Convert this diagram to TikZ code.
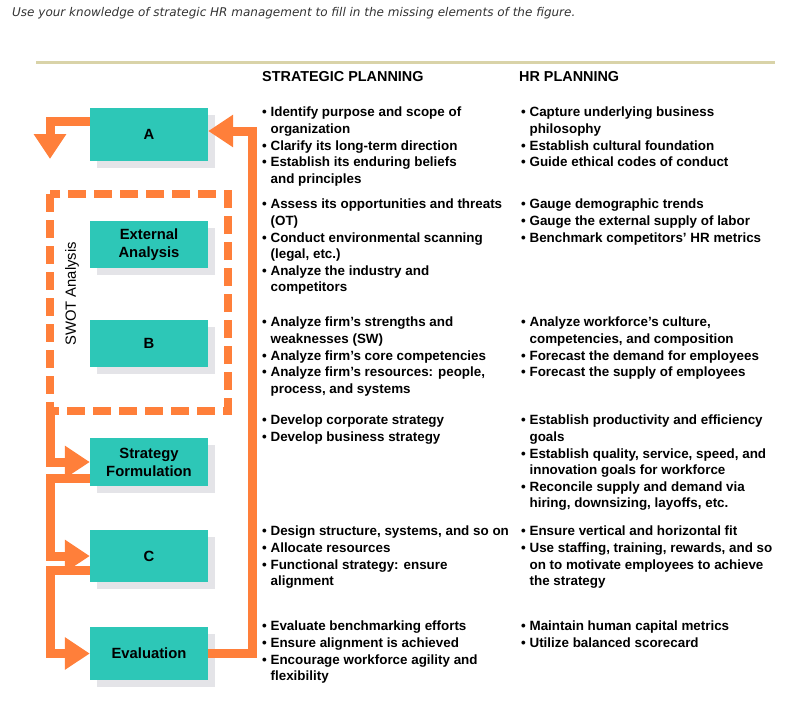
\documentclass[tikz,border=0pt]{standalone}
\usepackage{fontspec}
\setmainfont{Liberation Sans}
\newfontfamily\dejavu{DejaVu Sans}
\usetikzlibrary{arrows.meta}
\definecolor{teal1}{HTML}{2DC7B7}
\definecolor{orng}{HTML}{FF7F3A}
\definecolor{shad}{HTML}{E4E4E8}
\definecolor{rule}{HTML}{D9D3A8}
\newcommand{\cl}{\phantom{\textbullet\ }}
\tikzset{
 box/.style={fill=teal1,minimum width=118pt,minimum height=50pt,inner sep=0pt,align=center,font=\fontsize{14.8}{18}\selectfont\bfseries},
 shadow/.style={fill=shad},
 flow/.style={draw=orng,line width=9pt,line join=miter,-{Triangle[length=25pt,width=31pt]}},
 txt/.style={anchor=north west,inner sep=0pt,align=left,font=\fontsize{13.4}{16.6}\selectfont\bfseries},
 hdr/.style={anchor=west,inner sep=0pt,font=\fontsize{14.4}{17}\selectfont\bfseries}
}
\begin{document}
\begin{tikzpicture}[x=1pt,y=-1pt]
\useasboundingbox (0,0) rectangle (792,702);
\node[anchor=west,inner sep=0pt,font=\dejavu\fontsize{12}{14}\selectfont\itshape,text=black!80] (q) at (12,13) {Use your knowledge of strategic HR management to fill in the missing elements of the figure.};
\draw[rule,line width=3pt] (36,62) -- (775,62);
\node[hdr] (h1) at (262,77) {STRATEGIC PLANNING};
\node[hdr] (h2) at (519,77) {HR PLANNING};
% shadows
\foreach \y/\h in {108/53,221/47,320/47,438/48,530/52,627/53}
  \fill[shadow] (97,\y+7) rectangle ++(118,\h);
\node[box,minimum height=53pt] (A) at (149,134.5) {A};
\node[box,minimum height=47pt] (E) at (149,244.5) {External\\Analysis};
\node[box,minimum height=47pt] (B) at (149,343.5) {B};
\node[box,minimum height=48pt] (S) at (149,462) {Strategy\\Formulation};
\node[box,minimum height=52pt] (C) at (149,556) {C};
\node[box,minimum height=53pt] (V) at (149,653.5) {Evaluation};
% dashed swot
\draw[orng,line width=8.5pt,dash pattern=on 18pt off 8pt] (50,194) rectangle (228,411);
\node[rotate=90,inner sep=0pt,font=\fontsize{14.8}{18}\selectfont] (sw) at (72,294) {SWOT Analysis};
\coordinate (d) at (50,411);
% flows
\draw[flow] ([yshift=13pt]A.west) -| (50,159);
\draw[flow] (d) |- (S.west);
\draw[flow] ([yshift=-16pt]S.west) -| (50,556) -- (C.west);
\draw[flow] ([yshift=-14pt]C.west) -| (50,653.5) -- (V.west);
\draw[flow] (V.east) -| (252,131) -- ([yshift=3.5pt]A.east);
% texts
\node[txt] (s1) at (262,107) {\textbullet\ Identify purpose and scope of\\\cl organization\\\textbullet\ Clarify its long-term direction\\\textbullet\ Establish its enduring beliefs\\\cl and principles};
\node[txt] (r1) at (521,107) {\textbullet\ Capture underlying business\\\cl philosophy\\\textbullet\ Establish cultural foundation\\\textbullet\ Guide ethical codes of conduct};
\node[txt] (s2) at (262,199) {\textbullet\ Assess its opportunities and threats\\\cl (OT)\\\textbullet\ Conduct environmental scanning\\\cl (legal, etc.)\\\textbullet\ Analyze the industry and\\\cl competitors};
\node[txt] (r2) at (521,199) {\textbullet\ Gauge demographic trends\\\textbullet\ Gauge the external supply of labor\\\textbullet\ Benchmark competitors' HR metrics};
\node[txt] (s3) at (262,317) {\textbullet\ Analyze firm's strengths and\\\cl weaknesses (SW)\\\textbullet\ Analyze firm's core competencies\\\textbullet\ Analyze firm's resources: people,\\\cl process, and systems};
\node[txt] (r3) at (521,317) {\textbullet\ Analyze workforce's culture,\\\cl competencies, and composition\\\textbullet\ Forecast the demand for employees\\\textbullet\ Forecast the supply of employees};
\node[txt] (s4) at (262,415) {\textbullet\ Develop corporate strategy\\\textbullet\ Develop business strategy};
\node[txt] (r4) at (521,415) {\textbullet\ Establish productivity and efficiency\\\cl goals\\\textbullet\ Establish quality, service, speed, and\\\cl innovation goals for workforce\\\textbullet\ Reconcile supply and demand via\\\cl hiring, downsizing, layoffs, etc.};
\node[txt] (s5) at (262,526) {\textbullet\ Design structure, systems, and so on\\\textbullet\ Allocate resources\\\textbullet\ Functional strategy: ensure\\\cl alignment};
\node[txt] (r5) at (521,526) {\textbullet\ Ensure vertical and horizontal fit\\\textbullet\ Use staffing, training, rewards, and so\\\cl on to motivate employees to achieve\\\cl the strategy};
\node[txt] (s6) at (262,621) {\textbullet\ Evaluate benchmarking efforts\\\textbullet\ Ensure alignment is achieved\\\textbullet\ Encourage workforce agility and\\\cl flexibility};
\node[txt] (r6) at (521,621) {\textbullet\ Maintain human capital metrics\\\textbullet\ Utilize balanced scorecard};
\end{tikzpicture}
\end{document}
